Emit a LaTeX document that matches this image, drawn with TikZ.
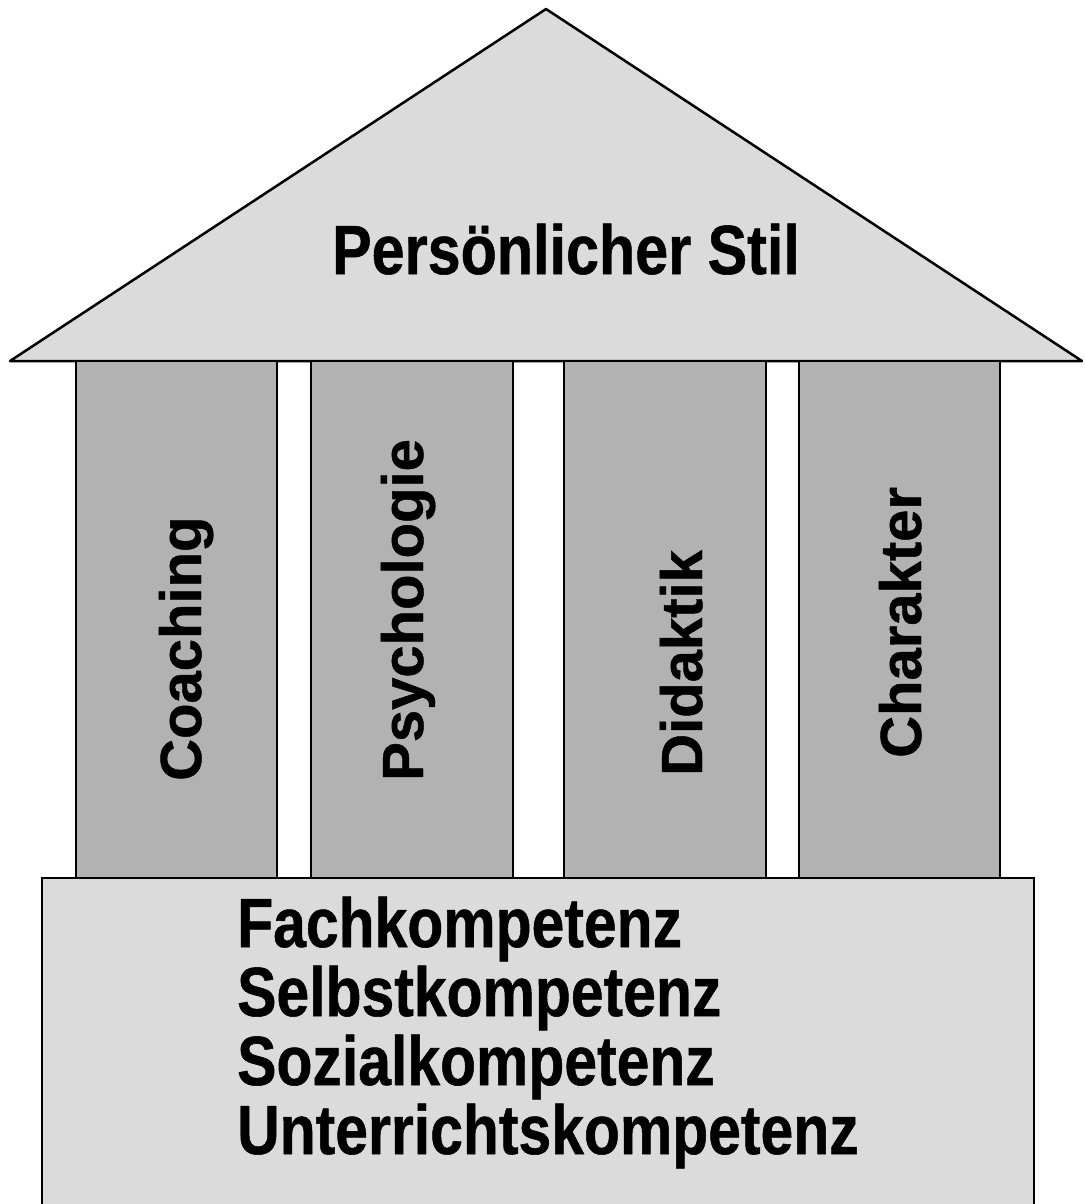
\documentclass[tikz,border=0pt]{standalone}
\usepackage{fontspec}
\setmainfont{Liberation Sans}
\newfontfamily\heavyfont{Liberation Sans}[UprightFont=*-Bold,FakeBold=0.8]
\begin{document}
\begin{tikzpicture}[x=1pt,y=-1pt,
  roofcol/.style={fill=black!14},
  pillarcol/.style={fill=black!30},
  outline/.style={draw=black,line width=2.5pt},
  lbl/.style={inner sep=0pt,font=\fontsize{58}{69}\heavyfont},
  vlbl/.style={lbl,rotate=90,anchor=base west},
  hlbl/.style={lbl,anchor=base west}]
\clip (0,0) rectangle (1084,1204);
\fill[white] (0,0) rectangle (1084,1204);
% roof
\draw[outline,roofcol,line join=round] (546,9) -- (1082,361) -- (10,361) -- cycle;
% pillars
\draw[outline,pillarcol] (76,361) rectangle (277,878);
\draw[outline,pillarcol] (311,361) rectangle (513,878);
\draw[outline,pillarcol] (564,361) rectangle (766,878);
\draw[outline,pillarcol] (799,361) rectangle (1000,878);
% base
\draw[outline,roofcol] (42,878) rectangle (1034,1220);
% texts
\node[lbl,anchor=base] (roof) at (566,274) {\scalebox{1.022}[1.2]{Persönlicher Stil}};
\node[vlbl] (coaching) at (201,781) {Coaching};
\node[vlbl] (psych) at (423,781) {Psychologie};
\node[vlbl] (didaktik) at (702,776) {Didaktik};
\node[vlbl] (charakter) at (921,758) {Charakter};
\node[hlbl] (fach) at (237,947) {\scalebox{1.015}[1.2]{Fachkompetenz}};
\node[hlbl] (selbst) at (237,1016) {\scalebox{1.015}[1.2]{Selbstkompetenz}};
\node[hlbl] (sozial) at (237,1085) {\scalebox{1.015}[1.2]{Sozialkompetenz}};
\node[hlbl] (unter) at (237,1154) {\scalebox{1.015}[1.2]{Unterrichtskompetenz}};
\end{tikzpicture}
\end{document}
